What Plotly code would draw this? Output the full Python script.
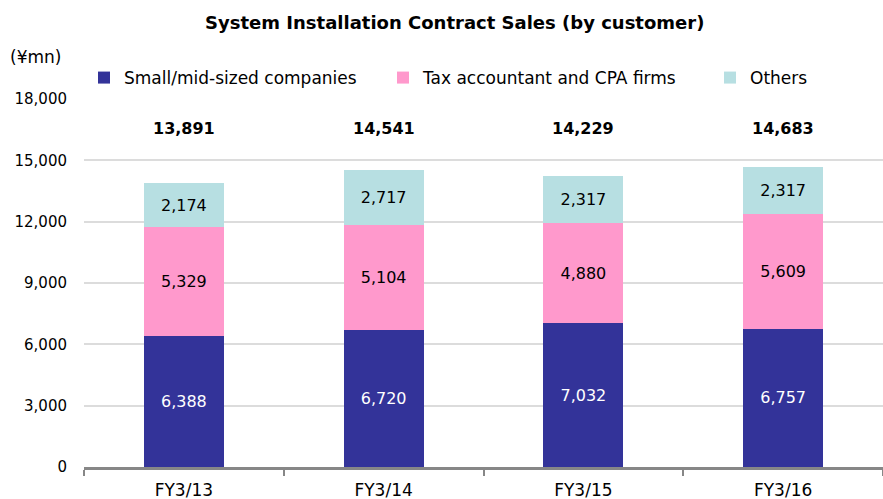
import plotly.graph_objects as go

categories = ["FY3/13", "FY3/14", "FY3/15", "FY3/16"]
small_mid = [6388, 6720, 7032, 6757]
tax_cpa = [5329, 5104, 4880, 5609]
others = [2174, 2717, 2317, 2317]
totals = [13891, 14541, 14229, 14683]
y_ticks = [0, 3000, 6000, 9000, 12000, 15000, 18000]

FONT = "DejaVu Sans"

fig = go.Figure()
series = [
    ("Small/mid-sized companies", small_mid, "#333399", "white", "legend"),
    ("Tax accountant and CPA firms", tax_cpa, "#FF99CC", "black", "legend2"),
    ("Others", others, "#B7DFE2", "black", "legend3"),
]
for name, vals, color, tcolor, lg in series:
    fig.add_trace(go.Bar(
        x=categories, y=vals, name=name, legend=lg, showlegend=True,
        marker=dict(color=color, line=dict(width=0)),
        text=[f"{v:,}" for v in vals], textposition="inside",
        insidetextanchor="middle", textangle=0,
        insidetextfont=dict(color=tcolor, size=16, family=FONT),
        width=0.4,
    ))

for c, t in zip(categories, totals):
    fig.add_annotation(x=c, y=16550, text=f"<b>{t:,}</b>", showarrow=False,
                       font=dict(size=16, color="black", family=FONT))

fig.add_annotation(xref="paper", yref="paper", x=-0.095, y=1.114, xanchor="left",
                   yanchor="middle", text="(¥mn)", showarrow=False,
                   font=dict(size=17, color="black", family=FONT))

leg_common = dict(orientation="h", xanchor="left", y=1.057, yanchor="middle",
                  font=dict(size=17, color="black", family=FONT),
                  itemwidth=30, bgcolor="rgba(0,0,0,0)")

fig.update_layout(
    barmode="stack",
    width=883, height=499,
    margin=dict(l=84, r=0, t=99, b=32, autoexpand=False),
    plot_bgcolor="white", paper_bgcolor="white",
    title=dict(text="<b>System Installation Contract Sales (by customer)</b>",
               x=0.515, xanchor="center", y=1 - 23 / 499, yanchor="middle",
               font=dict(size=18, color="black", family=FONT)),
    showlegend=True,
    legend=dict(x=0.0, **leg_common),
    legend2=dict(x=0.3742, **leg_common),
    legend3=dict(x=0.7835, **leg_common),
    font=dict(family=FONT, color="black"),
    uniformtext=dict(mode="show", minsize=10),
    bargap=0.6,
)
fig.update_xaxes(showline=True, linecolor="#878787", linewidth=3,
                 ticks="outside", tickson="boundaries", ticklen=6, tickcolor="#878787",
                 tickwidth=2, tickfont=dict(size=17, color="black", family=FONT),
                 ticklabelstandoff=6, showgrid=False, automargin=False)
fig.update_yaxes(range=[0, 18000], tickvals=y_ticks,
                 ticktext=[f"{v:,}" for v in y_ticks],
                 showgrid=True, gridcolor="#DCDCDC", gridwidth=1.5,
                 showline=False, zeroline=False, ticks="",
                 ticklabelstandoff=16, automargin=False,
                 tickfont=dict(size=15, color="black", family=FONT))

fig.write_html("out.html", post_script="document.body.style.margin='0';",
               config={"displayModeBar": False})
